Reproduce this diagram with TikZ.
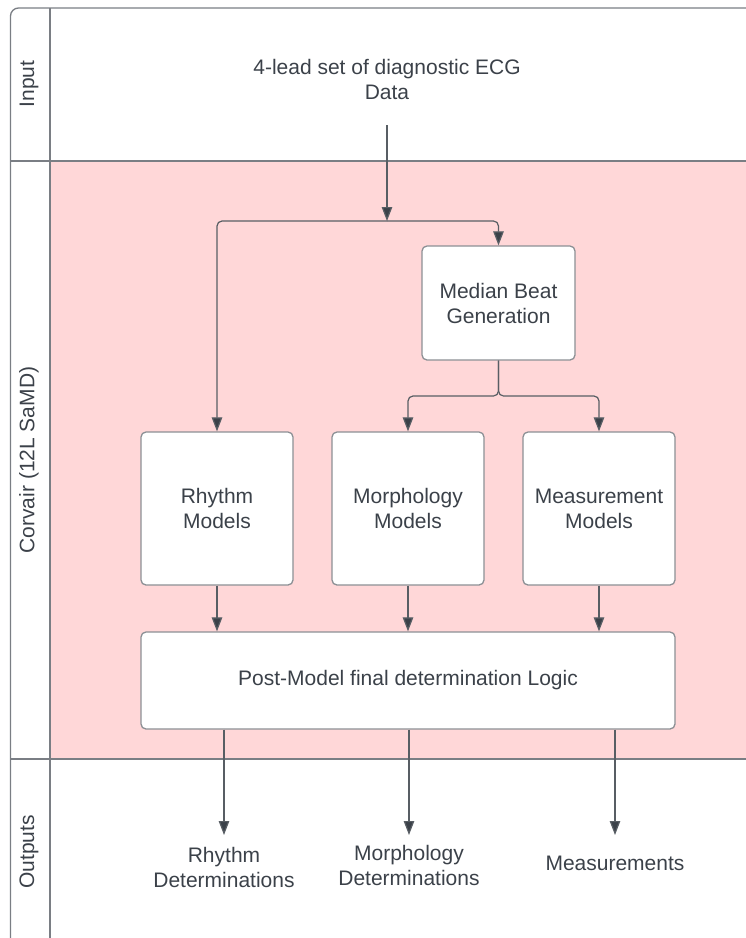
\documentclass[tikz,border=0pt]{standalone}
\usepackage{fontspec}
\setmainfont{Liberation Sans}
\usepackage{xcolor}
\usetikzlibrary{arrows.meta}
\definecolor{lanepink}{HTML}{FFD7D8}
\definecolor{laneline}{HTML}{7A7E84}
\definecolor{boxline}{HTML}{8C9095}
\definecolor{inkgray}{HTML}{3B4149}

\begin{document}
\begin{tikzpicture}[x=1pt,y=-1pt,
  every node/.style={font=\fontsize{21}{25}\selectfont, text=inkgray, align=center},
  model/.style={draw=boxline, line width=1.3pt, fill=white, rounded corners=5pt, inner sep=0pt},
  arr/.style={draw=inkgray!85, line width=1.2pt, rounded corners=5pt, -{Triangle[length=14pt,width=10.5pt,fill=inkgray]}},
  lane/.style={draw=laneline, line width=1.3pt}]
\useasboundingbox (0,0) rectangle (746,938);
%
\fill[lanepink] (50,161) rectangle (746,759);
\draw[lane, rounded corners=8pt] (10.5,938) -- (10.5,8) -- (746,8);
\draw[lane] (50,8) -- (50,938);
\draw[lane] (10.5,161) -- (746,161);
\draw[lane] (10.5,759) -- (746,759);
%
\node[rotate=90] (inputlane) at (29,84) {Input};
\node[rotate=90] (corvairlane) at (29,460) {Corvair (12L SaMD)};
\node[rotate=90] (outputlane) at (29,852) {Outputs};
%
\node[minimum height=91pt] (ecg) at (387,79.5) {4-lead set of diagnostic ECG\\Data};
\coordinate (fork) at (387,221);
\draw[arr] (ecg.south) -- (fork);
%
\node[model, minimum width=153pt, minimum height=114pt] (median) at (498.5,303) {Median Beat\\Generation};
\node[model, minimum width=152pt, minimum height=153pt] (rhythm) at (217,508.5) {Rhythm\\Models};
\node[model, minimum width=152pt, minimum height=153pt] (morph) at (408,508.5) {Morphology\\Models};
\node[model, minimum width=152pt, minimum height=153pt] (meas) at (599,508.5) {Measurement\\Models};
\node[model, minimum width=534pt, minimum height=97pt] (post) at (408,680.5) {Post-Model final determination Logic};
%
\draw[arr] (fork) -| (rhythm.north);
\draw[arr] (fork) -| (median.north);
\coordinate (msplit) at (498.5,396);
\draw[arr] (median.south) -- (msplit) -| (morph.north);
\draw[arr] (median.south) -- (msplit) -| (meas.north);
\foreach \m in {rhythm,morph,meas}
  \draw[arr] (\m.south) -- (\m.south |- post.north);
%
\node[minimum height=65pt, anchor=north] (rdet) at (224,835) {Rhythm\\Determinations};
\node[minimum height=61pt, anchor=north] (mdet) at (409,835) {Morphology\\Determinations};
\node[minimum height=56pt, anchor=north] (msr) at (615,835) {Measurements};
\foreach \o in {rdet,mdet,msr}
  \draw[arr] (post.south -| \o.north) -- (\o.north);
\end{tikzpicture}
\end{document}
